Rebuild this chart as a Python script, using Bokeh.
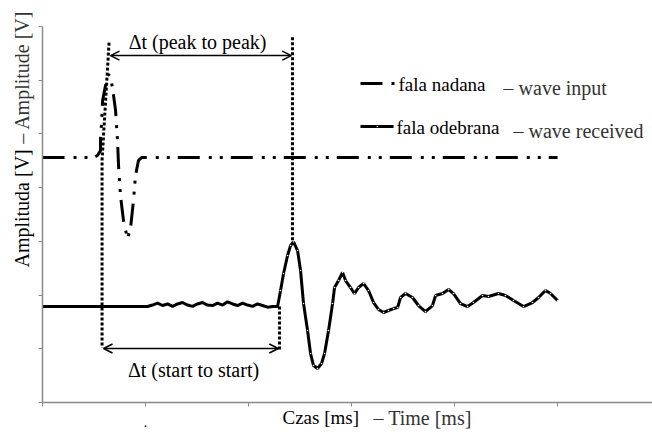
from bokeh.plotting import figure
from bokeh.models import Range1d, FixedTicker, Arrow, OpenHead, Label, LinearAxis
from bokeh.embed import file_html
from bokeh.resources import INLINE

# ---- data (time in tick units, amplitude in tick units) ----
input_t = [0.000, 0.417, 0.495, 0.534, 0.563, 0.563, 0.573, 0.583, 0.621, 0.641,
           0.660, 0.680, 0.709, 0.728, 0.738, 0.757, 0.786, 0.825, 0.854, 0.883,
           0.903, 0.932, 0.961, 5.000]
input_v = [4.56, 4.56, 4.56, 4.60, 4.69, 4.93, 5.19, 5.62, 6.00, 6.11,
           6.05, 5.85, 5.44, 4.88, 4.41, 3.85, 3.39, 3.05, 3.24, 3.76,
           4.23, 4.51, 4.56, 4.56]

recv_t = [0.000, 1.019, 1.068, 1.117, 1.165, 1.214, 1.262, 1.311, 1.359, 1.408,
          1.456, 1.505, 1.553, 1.602, 1.650, 1.699, 1.748, 1.796, 1.845, 1.893,
          1.942, 1.990, 2.039, 2.087, 2.136, 2.184, 2.233, 2.282,
          2.311, 2.340, 2.379, 2.408, 2.437, 2.476, 2.505, 2.534, 2.573, 2.602,
          2.631, 2.670, 2.709, 2.738, 2.777, 2.816, 2.835, 2.874, 2.913, 2.942,
          2.990, 3.029, 3.068, 3.117, 3.165, 3.214, 3.262, 3.311, 3.359, 3.408,
          3.447, 3.476, 3.524, 3.592, 3.650, 3.718, 3.786, 3.816, 3.883, 3.942,
          3.990, 4.058, 4.126, 4.184, 4.272, 4.330, 4.427, 4.495, 4.573, 4.670,
          4.757, 4.816, 4.883, 4.932, 5.000]
recv_v = [1.787, 1.787, 1.815, 1.850, 1.806, 1.835, 1.790, 1.835, 1.862, 1.815,
          1.790, 1.835, 1.862, 1.815, 1.806, 1.850, 1.815, 1.875, 1.835, 1.806,
          1.850, 1.815, 1.790, 1.835, 1.806, 1.775, 1.787, 1.787,
          2.085, 2.402, 2.737, 2.923, 2.990, 2.830, 2.458, 1.843, 1.341, 0.912,
          0.689, 0.633, 0.726, 0.912, 1.341, 1.843, 2.141, 2.271, 2.420, 2.271,
          2.141, 2.029, 2.141, 2.216, 2.085, 1.862, 1.732, 1.676, 1.713, 1.750,
          1.769, 1.955, 2.029, 1.955, 1.806, 1.694, 1.806, 1.992, 2.029, 2.104,
          2.029, 1.843, 1.787, 1.862, 1.992, 1.974, 2.029, 1.992, 1.899, 1.787,
          1.862, 1.955, 2.085, 2.029, 1.899]

x_ticks = [0, 1, 2, 3, 4, 5]
y_ticks = [0, 1, 2, 3, 4, 5, 6, 7]
x_max = 5.922
y_max = 7

# marker times for the delta-t annotations
start_in_t = 0.578
peak_in_t = 0.646
start_rx_t = 2.301
peak_rx_t = 2.427

SERIF = "'Liberation Serif', 'Times New Roman', serif"
GRAY = "#333333"

p = figure(width=652, height=435, output_backend="svg", toolbar_location=None,
           x_range=Range1d(-0.408, x_max), y_range=Range1d(-0.614, 7.485),
           x_axis_type=None, y_axis_type=None, min_border=0)
p.outline_line_color = None
p.background_fill_color = "white"
p.border_fill_color = "white"

xax = LinearAxis(fixed_location=0, bounds=(0, x_max))
yax = LinearAxis(fixed_location=0, bounds=(0, y_max))
for ax, ticks in ((xax, x_ticks), (yax, y_ticks)):
    ax.ticker = FixedTicker(ticks=ticks)
    ax.minor_tick_line_color = None
    ax.major_tick_in = 0
    ax.major_tick_out = 4
    ax.axis_line_color = "#8a8a8a"
    ax.major_tick_line_color = "#8a8a8a"
    ax.axis_line_width = 1.5
    ax.major_label_overrides = {t: "" for t in ticks}
p.add_layout(xax, "below")
p.add_layout(yax, "left")

# waves
p.line(input_t, input_v, line_color="black", line_width=3, line_dash="22 9 3 8 3 8")
p.line(recv_t, recv_v, line_color="black", line_width=3)
p.scatter(recv_t[28:], recv_v[28:], size=1.6, fill_color="white", line_color=None)

# dotted guide lines
DOT = dict(line_color="black", line_width=3, line_dash="3 2")
p.line([peak_in_t, start_in_t, start_in_t], [6.70, 4.51, 1.02], **DOT)
p.line([peak_rx_t, peak_rx_t], [6.80, 2.98], **DOT)
p.line([start_rx_t, start_rx_t], [1.79, 0.97], **DOT)

# arrows
p.add_layout(Arrow(start=OpenHead(size=9, line_width=1.5), end=OpenHead(size=9, line_width=1.5),
                   x_start=peak_in_t + 0.014, y_start=6.46, x_end=peak_rx_t - 0.012, y_end=6.46,
                   line_width=1.5))
p.add_layout(Arrow(start=OpenHead(size=9, line_width=1.5), end=OpenHead(size=9, line_width=1.5),
                   x_start=start_in_t + 0.014, y_start=1.005, x_end=start_rx_t - 0.012, y_end=1.005,
                   line_width=1.5))

def lab(x, y, text, size="19px", color="black", align="left", angle=0.0):
    p.add_layout(Label(x=x, y=y, text=text, text_font=SERIF, text_font_size=size,
                       text_color=color, text_align=align, text_baseline="middle",
                       angle=angle))

lab(1.505, 6.72, "\u0394t (peak to peak)", size="20px", align="center")
lab(1.466, 0.60, "\u0394t (start to start)", size="20px", align="center")

# legend
p.line([3.087, 3.420], [5.94, 5.94], line_color="black", line_width=3, line_dash="22 9 3 8 3 8")
p.line([3.087, 3.408], [5.139, 5.139], line_color="black", line_width=3)
p.scatter([3.25], [5.139], size=1.6, fill_color="white", line_color=None)
lab(3.456, 5.92, "fala nadana")
lab(4.476, 5.865, "\u2013 wave input", size="20px", color=GRAY)
lab(3.437, 5.12, "fala odebrana")
lab(4.573, 5.064, "\u2013 wave received", size="20px", color=GRAY)

# axis titles
lab(2.330, -0.279, "Czas [ms]")
lab(3.214, -0.279, "\u2013 Time [ms]", size="20px", color=GRAY)
lab(-0.204, 2.513, "Amplituda [V]", size="20px", angle=1.5708)
lab(-0.204, 7.30, "\u2013 Amplitude [V]", size="20px", color=GRAY, align="right", angle=1.5708)
lab(1.0, -0.36, ".", size="14px", align="center")

open("out.html", "w").write(file_html(p, INLINE))
